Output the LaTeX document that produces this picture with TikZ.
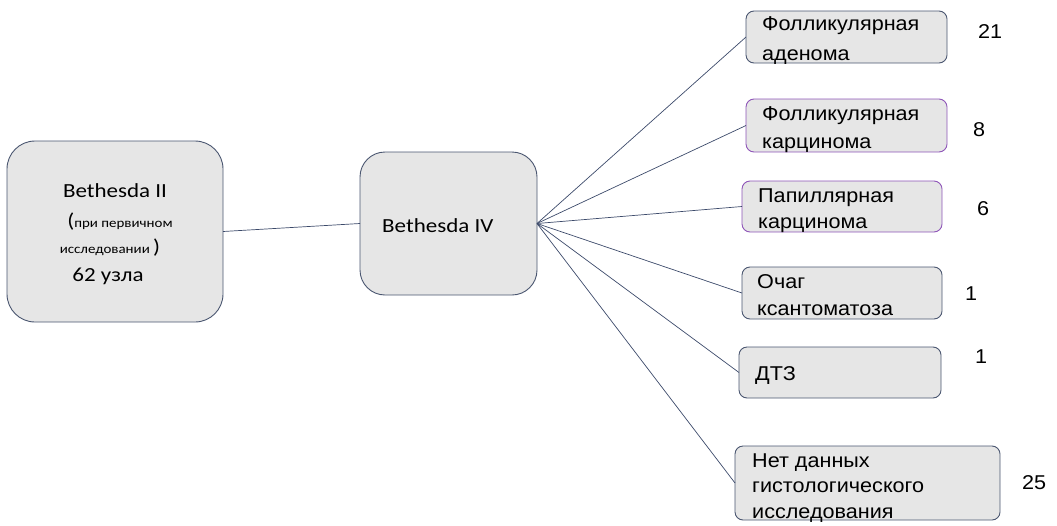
\documentclass[tikz,border=0pt]{standalone}
\usepackage{fontspec}
\setmainfont{Carlito}
\newfontfamily\calfont[FakeStretch=1.15]{Carlito}
\newfontfamily\arialfont[FakeStretch=1.08]{Liberation Sans}
\definecolor{boxfill}{HTML}{E6E6E6}
\definecolor{boxline}{HTML}{4A5670}
\definecolor{purpline}{HTML}{8E55B8}
\definecolor{conn}{HTML}{3C4A6A}
\tikzset{
  bigbox/.style={draw=boxline, fill=boxfill, line width=0.9pt, rectangle, inner sep=0pt, outer sep=0pt},
  smallbox/.style={bigbox, rounded corners=8pt},
  purplebox/.style={smallbox, draw=purpline},
  conline/.style={draw=conn, line width=0.7pt},
  caltext/.style={inner sep=0pt, anchor=base, font=\calfont\fontsize{20}{24}\selectfont},
  caltextsmall/.style={inner sep=0pt, anchor=base, font=\calfont\fontsize{13}{16}\selectfont},
  artext/.style={inner sep=0pt, anchor=base west, font=\arialfont\fontsize{20}{24}\selectfont},
}
\begin{document}
\begin{tikzpicture}[x=1pt,y=-1pt]
\useasboundingbox (0,0) rectangle (1057,525);
% boxes
\node[bigbox, rounded corners=28pt, minimum width=216pt, minimum height=181pt] (b2) at (115,231.5) {};
\node[bigbox, rounded corners=25pt, minimum width=177pt, minimum height=143pt] (b4) at (448.5,223.5) {};
\node[smallbox, minimum width=201pt, minimum height=52pt] (r1) at (846.5,37) {};
\node[purplebox, minimum width=201pt, minimum height=53pt] (r2) at (846.5,125.5) {};
\node[purplebox, minimum width=200pt, minimum height=51pt] (r3) at (842,206.5) {};
\node[smallbox, minimum width=200pt, minimum height=52pt] (r4) at (842,293) {};
\node[smallbox, minimum width=202pt, minimum height=51pt] (r5) at (840,372.5) {};
\node[smallbox, minimum width=265pt, minimum height=74pt] (r6) at (867.5,483) {};
% connectors
\draw[conline] (b2.east) -- (b4.west);
\foreach \r in {r1,r2,r3,r4,r5,r6} \draw[conline] (b4.east) -- (\r.west);
% left box text
\node[caltext] (l1) at (115,197) {Bethesda II};
\node[caltextsmall] (l2) at (120,227) {{\fontsize{20}{24}\selectfont(}при первичном};
\node[caltextsmall] (l3) at (110,253) {исследовании {\fontsize{20}{24}\selectfont)}};
\node[caltext] (l4) at (108,281) {62 узла};
% middle box text
\node[caltext, anchor=base west] (m1) at (382,232) {Bethesda IV};
% right box texts
\node[artext] (t1a) at (762,30) {Фолликулярная};
\node[artext] (t1b) at (762,60) {аденома};
\node[artext] (t2a) at (762,120) {Фолликулярная};
\node[artext] (t2b) at (762,148) {карцинома};
\node[artext] (t3a) at (758,202) {Папиллярная};
\node[artext] (t3b) at (758,228) {карцинома};
\node[artext] (t4a) at (757,288) {Очаг};
\node[artext] (t4b) at (757,315) {ксантоматоза};
\node[artext] (t5a) at (755,380) {ДТЗ};
\node[artext] (t6a) at (752,467) {Нет данных};
\node[artext] (t6b) at (752,492) {гистологического};
\node[artext] (t6c) at (752,518) {исследования};
% numbers
\node[artext] (n1) at (978,38) {21};
\node[artext] (n2) at (973,136) {8};
\node[artext] (n3) at (977,215) {6};
\node[artext] (n4) at (965,300) {1};
\node[artext] (n5) at (975,363) {1};
\node[artext] (n6) at (1022,489) {25};
\end{tikzpicture}
\end{document}
